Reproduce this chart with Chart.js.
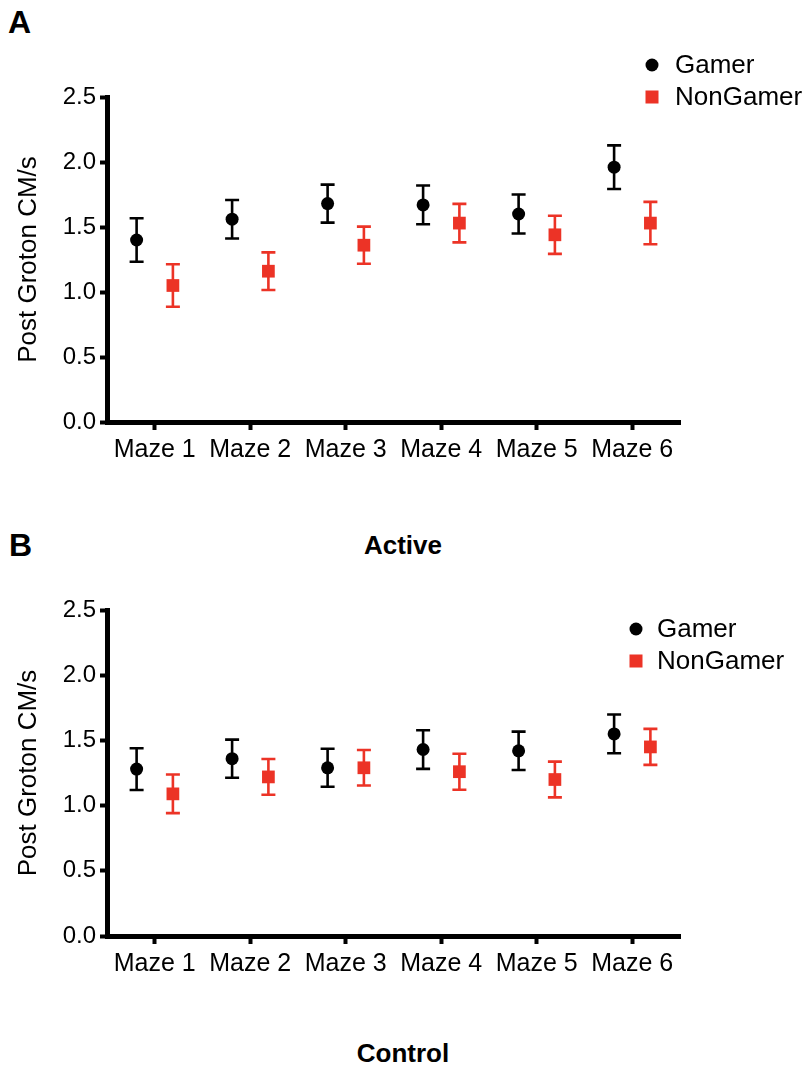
<!DOCTYPE html>
<html>
<head>
<meta charset="utf-8">
<script src="https://cdn.jsdelivr.net/npm/chart.js@4.4.1/dist/chart.umd.min.js"></script>
<style>
  html, body { margin: 0; padding: 0; background: #fff; }
  body { width: 806px; height: 1065px; position: relative; overflow: hidden;
         font-family: "Liberation Sans", Arial, Helvetica, sans-serif; }
  .panel { position: absolute; font-weight: bold; font-size: 32px; line-height: 32px; color: #000; }
  .cap { position: absolute; left: 0; width: 806px; text-align: center; font-weight: bold;
         font-size: 26px; line-height: 26px; color: #000; }
  canvas { position: absolute; left: 0; }
</style>
</head>
<body>
<div class="panel" style="left:8px; top:6px;">A</div>
<div class="panel" style="left:9px; top:529px;">B</div>
<div class="cap" style="top:532px;">Active</div>
<div class="cap" style="top:1040px;">Control</div>
<canvas id="chartA" width="806" height="480" style="top:0px;"></canvas>
<canvas id="chartB" width="806" height="540" style="top:500px;"></canvas>
<script>
// ---------------- data ----------------
const categories = ['Maze 1', 'Maze 2', 'Maze 3', 'Maze 4', 'Maze 5', 'Maze 6'];
const seriesNames = ['Gamer', 'NonGamer'];
const yTicks = [0, 0.5, 1.0, 1.5, 2.0, 2.5];

const activeGamerMean    = [1.40, 1.56, 1.68, 1.67, 1.60, 1.96];
const activeGamerSem     = [0.167, 0.148, 0.146, 0.149, 0.150, 0.168];
const activeNonGamerMean = [1.05, 1.16, 1.36, 1.53, 1.44, 1.53];
const activeNonGamerSem  = [0.164, 0.145, 0.143, 0.148, 0.147, 0.163];

const controlGamerMean    = [1.28, 1.36, 1.29, 1.43, 1.42, 1.55];
const controlGamerSem     = [0.160, 0.146, 0.146, 0.148, 0.147, 0.149];
const controlNonGamerMean = [1.09, 1.22, 1.29, 1.26, 1.20, 1.45];
const controlNonGamerSem  = [0.148, 0.137, 0.136, 0.138, 0.137, 0.138];

// ---------------- styles ----------------
const FONT = '"Liberation Sans", Arial, Helvetica, sans-serif';
const BLACK = '#000000';
const RED = '#ec3326';
const GROUP_OFFSET = 0.19;

function makeDataset(label, means, sems, offset, color, style, radius) {
  return {
    label: label,
    data: means.map((m, i) => ({ x: i + offset, y: m })),
    errors: sems,
    backgroundColor: color,
    borderColor: color,
    pointStyle: style,
    pointRadius: radius,
    pointHoverRadius: radius,
    pointBorderWidth: 0,
    showLine: false
  };
}

const errorBarPlugin = {
  id: 'errorBars',
  beforeDatasetsDraw(chart) {
    const ctx = chart.ctx;
    const xs = chart.scales.x, ys = chart.scales.y;
    chart.data.datasets.forEach((ds) => {
      ctx.save();
      ctx.strokeStyle = ds.borderColor;
      ctx.lineWidth = 2.6;
      ctx.lineCap = 'butt';
      ds.data.forEach((p, i) => {
        const e = ds.errors[i];
        const px = xs.getPixelForValue(p.x);
        const top = ys.getPixelForValue(p.y + e);
        const bot = ys.getPixelForValue(p.y - e);
        const half = 7;
        ctx.beginPath();
        ctx.moveTo(px, top); ctx.lineTo(px, bot);
        ctx.moveTo(px - half, top); ctx.lineTo(px + half, top);
        ctx.moveTo(px - half, bot); ctx.lineTo(px + half, bot);
        ctx.stroke();
      });
      ctx.restore();
    });
  }
};

const legendPlugin = {
  id: 'customLegend',
  afterDraw(chart, args, opts) {
    const ctx = chart.ctx;
    ctx.save();
    ctx.font = '26px ' + FONT;
    ctx.textBaseline = 'middle';
    ctx.textAlign = 'left';
    chart.data.datasets.forEach((ds, i) => {
      const y = opts.y + i * opts.dy;
      ctx.fillStyle = ds.backgroundColor;
      if (ds.pointStyle === 'circle') {
        ctx.beginPath();
        ctx.arc(opts.x, y, 6.5, 0, Math.PI * 2);
        ctx.fill();
      } else {
        ctx.fillRect(opts.x - 6.5, y - 6.5, 13, 13);
      }
      ctx.fillStyle = BLACK;
      ctx.fillText(ds.label, opts.textX, y + 1);
    });
    ctx.restore();
  }
};

function buildChart(canvasId, gMean, gSem, nMean, nSem, top, bottom, legend) {
  const canvas = document.getElementById(canvasId);
  const H = canvas.height;
  return new Chart(canvas, {
    type: 'scatter',
    data: {
      datasets: [
        makeDataset(seriesNames[0], gMean, gSem, -GROUP_OFFSET, BLACK, 'circle', 6.5),
        makeDataset(seriesNames[1], nMean, nSem, GROUP_OFFSET, RED, 'rect', 9)
      ]
    },
    plugins: [errorBarPlugin, legendPlugin],
    options: {
      responsive: false,
      animation: false,
      devicePixelRatio: 1,
      layout: { padding: { top: top, right: 126, left: 0, bottom: 0 } },
      plugins: {
        legend: { display: false },
        tooltip: { enabled: false },
        customLegend: legend
      },
      scales: {
        x: {
          type: 'linear',
          min: -0.5,
          max: 5.5,
          afterBuildTicks: (s) => { s.ticks = categories.map((c, i) => ({ value: i })); },
          afterFit: (s) => { s.height = H - bottom; },
          grid: { drawOnChartArea: false, drawTicks: true, tickLength: 8, tickWidth: 4, tickColor: BLACK },
          border: { display: true, width: 5, color: BLACK },
          ticks: {
            padding: 5,
            color: BLACK,
            font: { family: FONT, size: 25 },
            maxRotation: 0,
            autoSkip: false,
            callback: (v) => categories[v]
          }
        },
        y: {
          type: 'linear',
          min: 0,
          max: 2.5,
          afterBuildTicks: (s) => { s.ticks = yTicks.map(v => ({ value: v })); },
          afterFit: (s) => { s.width = 107; },
          grid: { drawOnChartArea: false, drawTicks: true, tickLength: 7, tickWidth: 4, tickColor: BLACK },
          border: { display: true, width: 5, color: BLACK },
          title: {
            display: true,
            text: 'Post Groton CM/s',
            color: BLACK,
            font: { family: FONT, size: 26 },
            padding: { top: 13, bottom: 0 }
          },
          ticks: {
            padding: 4,
            color: BLACK,
            font: { family: FONT, size: 24 },
            callback: (v) => Number(v).toFixed(1)
          }
        }
      }
    }
  });
}

buildChart('chartA', activeGamerMean, activeGamerSem, activeNonGamerMean, activeNonGamerSem,
           97, 422, { x: 652, y: 65, dy: 32, textX: 675 });
buildChart('chartB', controlGamerMean, controlGamerSem, controlNonGamerMean, controlNonGamerSem,
           110, 436, { x: 636, y: 129, dy: 32, textX: 657 });
</script>
</body>
</html>
